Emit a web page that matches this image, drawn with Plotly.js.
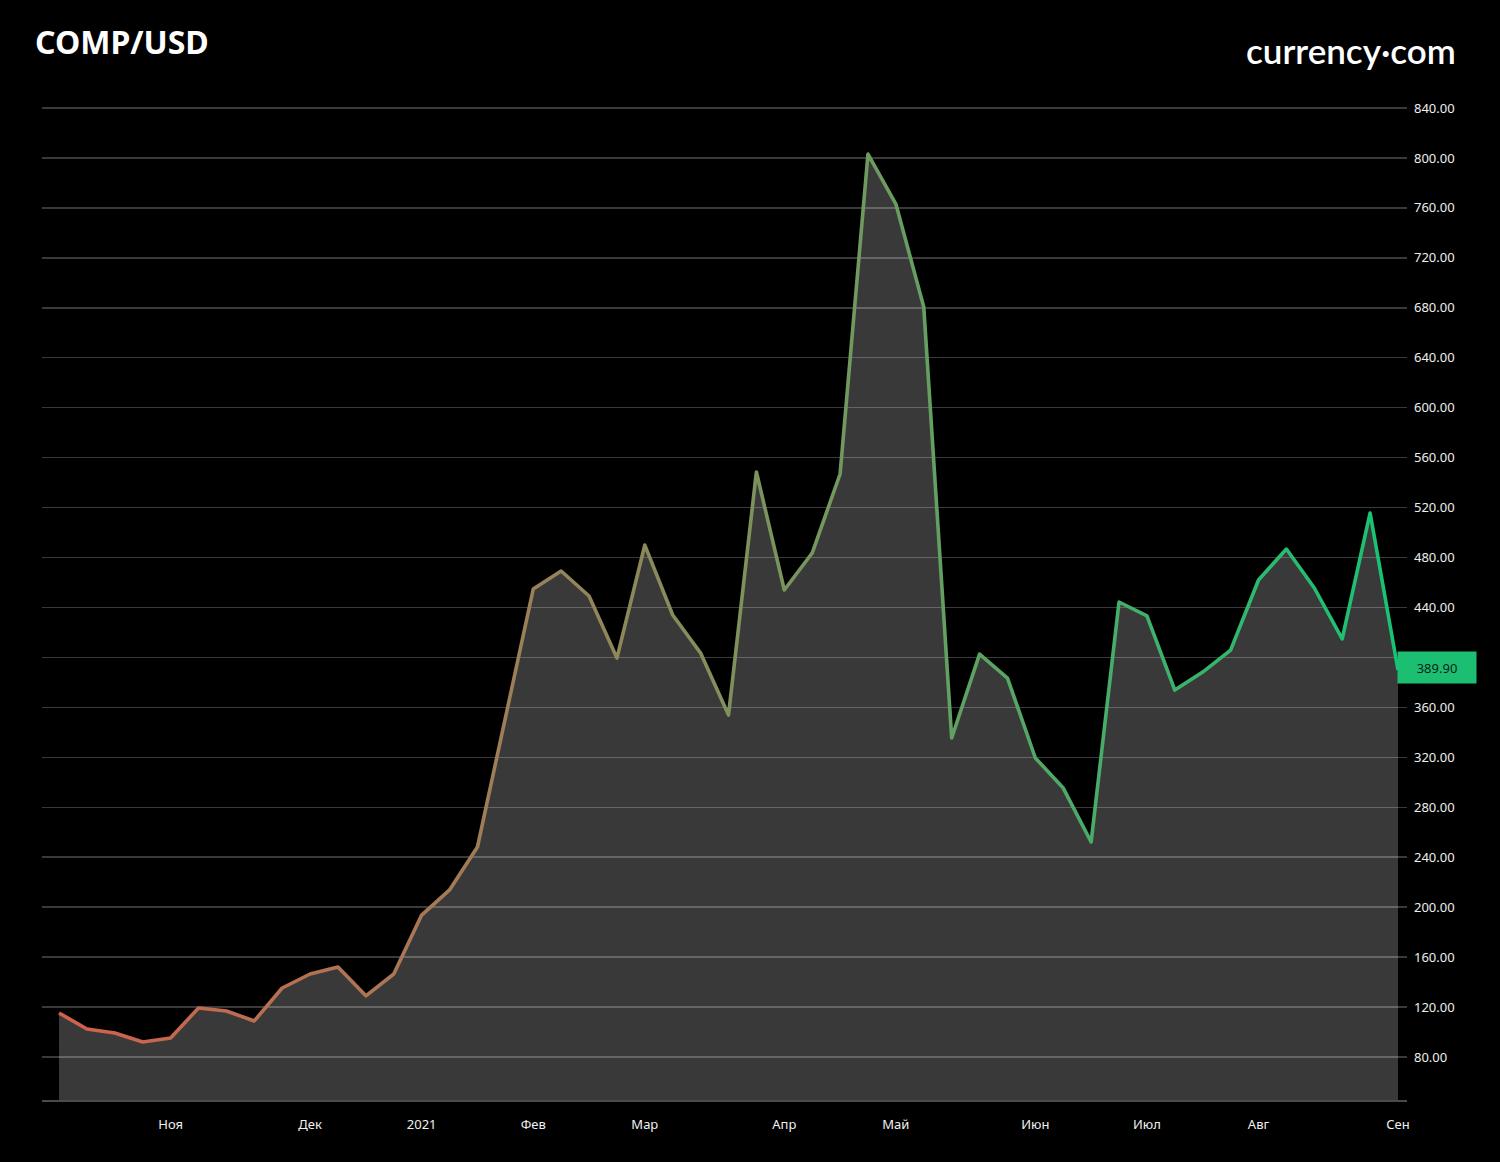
<!DOCTYPE html>
<html>
<head>
<meta charset="utf-8">
<script src="https://cdn.plot.ly/plotly-3.0.1.min.js"></script>
<style>
  html, body { margin: 0; padding: 0; background: #000; }
  #chart { width: 1500px; height: 1162px; }
</style>
</head>
<body>
<div id="chart"></div>
<script>
// ---- data ----
const dates = [
  '2020-10-04','2020-10-11','2020-10-18','2020-10-25','2020-11-01','2020-11-08','2020-11-15',
  '2020-11-22','2020-11-29','2020-12-06','2020-12-13','2020-12-20','2020-12-27','2021-01-03',
  '2021-01-10','2021-01-17','2021-01-24','2021-01-31','2021-02-07','2021-02-14','2021-02-21',
  '2021-02-28','2021-03-07','2021-03-14','2021-03-21','2021-03-28','2021-04-04','2021-04-11',
  '2021-04-18','2021-04-25','2021-05-02','2021-05-09','2021-05-16','2021-05-23','2021-05-30',
  '2021-06-06','2021-06-13','2021-06-20','2021-06-27','2021-07-04','2021-07-11','2021-07-18',
  '2021-07-25','2021-08-01','2021-08-08','2021-08-15','2021-08-22','2021-08-29','2021-09-05'
];
const prices = [
  115.3, 102.5, 99.3, 92.0, 95.2, 119.3, 116.9,
  108.9, 135.3, 146.5, 152.1, 129.0, 146.5, 193.7,
  213.8, 248.2, 351.5, 454.8, 469.2, 449.2, 399.5,
  490.0, 434.0, 403.5, 353.9, 548.5, 454.0, 483.6,
  546.9, 803.1, 763.1, 680.6, 335.5, 402.7, 383.5,
  319.5, 295.4, 252.2, 444.4, 433.2, 373.9, 388.3,
  405.9, 462.0, 486.8, 455.6, 414.8, 515.7, 389.90
];
const monthTickDates = ['2020-11-01','2020-12-06','2021-01-03','2021-01-31','2021-02-28',
  '2021-04-04','2021-05-02','2021-06-06','2021-07-04','2021-08-01','2021-09-05'];
const monthTickLabels = ['Ноя','Дек','2021','Фев','Мар','Апр','Май','Июн','Июл','Авг','Сен'];
const priceTicks = [80,120,160,200,240,280,320,360,400,440,480,520,560,600,640,680,720,760,800,840];
// the 400.00 label is hidden behind the last-price tag in the reference
const priceTickLabels = ['80.00','120.00','160.00','200.00','240.00','280.00','320.00','360.00','',
  '440.00','480.00','520.00','560.00','600.00','640.00','680.00','720.00','760.00','800.00','840.00'];
const pairName = 'COMP/USD';
const brandName = 'currency·com';

// ---- chart ----
const lastPrice = prices[prices.length - 1];

const trace = {
  x: dates,
  y: prices,
  type: 'scatter',
  mode: 'lines',
  fill: 'tozeroy',
  fillcolor: 'rgba(255,255,255,0.225)',
  line: { color: '#73925f', width: 3.6, shape: 'linear' },
  hoverinfo: 'skip'
};

const layout = {
  width: 1500,
  height: 1162,
  paper_bgcolor: '#000',
  plot_bgcolor: '#000',
  margin: { l: 42, r: 93, t: 95, b: 62 },
  showlegend: false,
  font: { family: 'Noto Sans, Open Sans, sans-serif', color: '#e6e6e6', size: 12 },
  title: {
    text: pairName,
    x: 35 / 1500, xanchor: 'left', xref: 'container',
    y: 1 - 43 / 1162, yanchor: 'middle', yref: 'container',
    font: { family: 'Noto Sans, Open Sans, sans-serif', size: 32, color: '#ffffff', weight: 700 }
  },
  xaxis: {
    type: 'date',
    range: ['2020-09-29 17:30', '2021-09-07 06:15'],
    tickmode: 'array',
    tickvals: monthTickDates,
    ticktext: monthTickLabels,
    showgrid: false,
    zeroline: false,
    showline: true,
    linecolor: '#4a4a4a',
    linewidth: 2,
    ticks: '',
    ticklabelstandoff: 11,
    tickfont: { size: 13, color: '#f0f0f0' },
    fixedrange: true
  },
  yaxis: {
    side: 'right',
    range: [45.6, 850.4],
    tickmode: 'array',
    tickvals: priceTicks,
    ticktext: priceTickLabels,
    showgrid: true,
    gridcolor: '#3a3a3a',
    gridwidth: 1.5,
    zeroline: false,
    showline: false,
    ticks: '',
    ticklabelstandoff: 6,
    tickfont: { size: 13, color: '#eeeeee' },
    fixedrange: true
  },
  annotations: [
    {
      xref: 'paper', yref: 'y',
      x: 1, y: lastPrice,
      xanchor: 'left', yanchor: 'middle',
      xshift: -10, yshift: 3,
      text: lastPrice.toFixed(2),
      showarrow: false,
      bgcolor: '#1cbf72',
      width: 78, height: 31, borderpad: 0,
      align: 'center',
      font: { size: 13, color: '#0b1f14', family: 'Noto Sans, Open Sans, sans-serif' }
    },
    {
      xref: 'paper', yref: 'paper',
      x: (1458 - 42) / 1365, y: (1100 - 50) / 1005,
      xanchor: 'right', yanchor: 'middle',
      text: brandName,
      showarrow: false,
      font: { size: 35, color: '#ffffff', family: 'Lato, Noto Sans, sans-serif', weight: 600 }
    }
  ]
};

Plotly.newPlot('chart', [trace], layout, { displayModeBar: false, staticPlot: true }).then(gd => {
  const ns = 'http://www.w3.org/2000/svg';
  const svg = gd.querySelector('svg.main-svg');
  let defs = svg.querySelector('defs');
  if (!defs) { defs = document.createElementNS(ns, 'defs'); svg.insertBefore(defs, svg.firstChild); }
  const lg = document.createElementNS(ns, 'linearGradient');
  lg.setAttribute('id', 'priceLineGrad');
  lg.setAttribute('x1', '0'); lg.setAttribute('y1', '0');
  lg.setAttribute('x2', '1'); lg.setAttribute('y2', '0');
  [['0%', '#d2604c'], ['35%', '#9a8058'], ['60%', '#6f9a5f'], ['100%', '#16c473']].forEach(([o, c]) => {
    const s = document.createElementNS(ns, 'stop');
    s.setAttribute('offset', o);
    s.setAttribute('stop-color', c);
    lg.appendChild(s);
  });
  defs.appendChild(lg);
  gd.querySelectorAll('.scatterlayer .trace path.js-line').forEach(p => {
    p.style.stroke = 'url(#priceLineGrad)';
    p.style.strokeLinejoin = 'round';
  });
});
</script>
</body>
</html>
